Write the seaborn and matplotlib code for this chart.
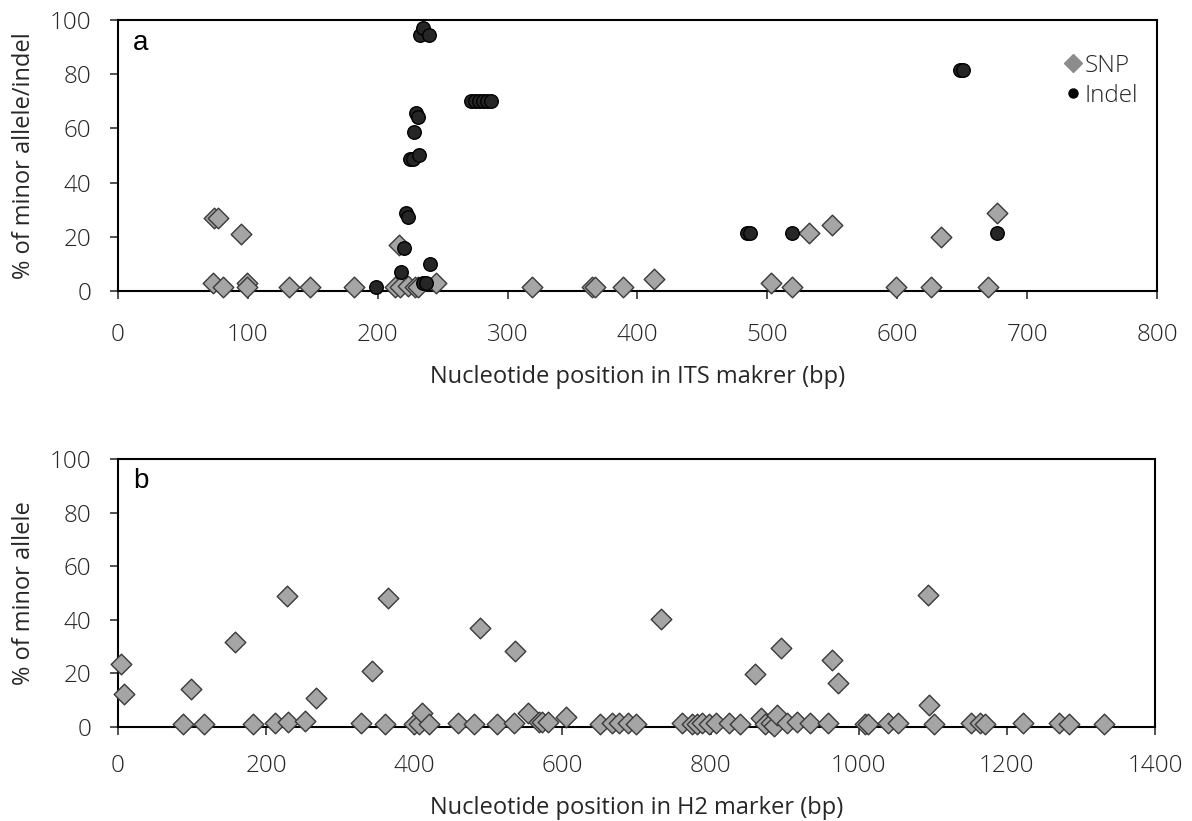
import matplotlib
matplotlib.use("Agg")
import matplotlib.pyplot as plt
from matplotlib.lines import Line2D
import numpy as np
import pandas as pd
import seaborn as sns

# ---------------------------------------------------------------------------
# Data
# ---------------------------------------------------------------------------
its_snp_pos = [74, 77, 95, 73, 81, 99, 99, 132, 148, 182, 216, 213, 217, 223,
               229, 231, 245, 319, 365, 367, 389, 413, 503, 519, 532, 550, 599,
               626, 634, 670, 677]
its_snp_pct = [27, 27, 21, 3, 1.6, 3, 1.5, 1.6, 1.6, 1.6, 17, 1.5, 1.5, 2,
               1.5, 1.5, 3, 1.6, 1.6, 1.6, 1.6, 4.3, 3, 1.6, 21.3, 24.4, 1.6,
               1.6, 20, 1.6, 28.7]

its_indel_pos = [199, 218, 220, 222, 223.5, 225, 227, 231.5, 228, 229.5, 231,
                 232.5, 235, 239.5, 240, 235, 237.5, 272, 275, 278, 281, 284,
                 287, 484, 486.5, 519, 648, 650.5, 677]
its_indel_pct = [1.4, 7.1, 15.7, 28.7, 27.2, 48.6, 48.6, 50.2, 58.6, 65.6,
                 64.3, 94.5, 97, 94.5, 9.8, 2.8, 2.8, 70, 70, 70, 70, 70, 70,
                 21.3, 21.3, 21.3, 81.5, 81.5, 21.3]

h2_snp_pos = [3.6, 8, 88, 98, 116, 158.6, 182, 211.6, 228, 230, 253, 267,
              327.5, 343, 361, 364, 400, 406, 410.6, 420.5, 458.6, 481, 489,
              511, 534, 536, 553, 569, 573, 581, 605, 651, 667.5, 676.5, 688,
              699, 733.6, 761, 775, 782, 789, 798, 807, 825, 840, 860, 867.5,
              874, 881, 885, 889, 895, 903, 917, 934, 958.6, 964, 972, 1009,
              1013, 1040, 1053, 1094, 1095, 1102, 1152, 1164, 1171, 1222,
              1270, 1284, 1331]
h2_snp_pct = [23.5, 12.2, 1, 14, 1, 31.6, 1, 1.6, 48.9, 2, 2.2, 10.7,
              1.6, 20.9, 1, 48, 1, 1, 5.1, 1, 1.4, 1, 37,
              1, 1.4, 28.4, 5.1, 2, 2, 2, 3.6, 1, 1.4, 1.4, 1.4,
              1, 40.3, 1.4, 1, 1, 1.4, 1, 1.4, 1.6, 1, 19.8, 3.2,
              1, 1.4, 0.5, 4.5, 29.4, 1.4, 2, 1.4, 1.4, 25, 16.3, 1,
              1, 1.4, 1.4, 49.3, 8.2, 1, 1.4, 1.4, 1, 1.4,
              1.4, 1, 1]

its_xticks = [0, 100, 200, 300, 400, 500, 600, 700, 800]
h2_xticks = [0, 200, 400, 600, 800, 1000, 1200, 1400]
pct_ticks = [0, 20, 40, 60, 80, 100]

SNP_FILL = "#a5a5a5"
SNP_EDGE = "#3a3a3a"
INDEL_FILL = "#262626"
TEXT = "#262626"
FS = 17.5

sns.set_theme(style="white")
plt.rcParams["font.family"] = ["Open Sans", "DejaVu Sans"]
plt.rcParams["font.weight"] = "light"


def style_axes(ax, xticks, xmax, xlabel, ylabel, letter, xpad, xlabelpad):
    ax.set_xlim(0, xmax)
    ax.set_ylim(0, 100)
    ax.set_xticks(xticks)
    ax.set_yticks(pct_ticks)
    ax.tick_params(axis="both", direction="out", length=6, width=1.2,
                   color="#333333", labelsize=FS, labelcolor=TEXT,
                   bottom=True, left=True)
    ax.tick_params(axis="x", pad=xpad)
    ax.tick_params(axis="y", pad=13)
    for sp in ax.spines.values():
        sp.set_visible(True)
        sp.set_color("black")
        sp.set_linewidth(1.5)
    ax.set_xlabel(xlabel, fontsize=FS - 0.5, color=TEXT, labelpad=xlabelpad)
    ax.set_ylabel(ylabel, fontsize=FS - 0.5, color=TEXT, labelpad=10)
    ax.text(0.0145, 0.965, letter, transform=ax.transAxes, ha="left", va="top",
            fontsize=20, family=["Liberation Sans", "DejaVu Sans"],
            fontweight="normal", color="black")


fig = plt.figure(figsize=(11.92, 8.21), dpi=100)
ax_a = fig.add_axes([0.099, 0.6456, 0.8716, 0.330])
ax_b = fig.add_axes([0.099, 0.1145, 0.8700, 0.3264])

# panel a
df_snp_a = pd.DataFrame({"pos": its_snp_pos, "pct": its_snp_pct})
df_ind_a = pd.DataFrame({"pos": its_indel_pos, "pct": its_indel_pct})
sns.scatterplot(data=df_snp_a, x="pos", y="pct", ax=ax_a, marker="D", s=110,
                color=SNP_FILL, edgecolor=SNP_EDGE, linewidth=1.0, zorder=3,
                clip_on=False)
sns.scatterplot(data=df_ind_a, x="pos", y="pct", ax=ax_a, marker="o", s=95,
                color=INDEL_FILL, edgecolor="black", linewidth=1.0, zorder=4,
                clip_on=False)
style_axes(ax_a, its_xticks, 800, "Nucleotide position in ITS makrer (bp)",
           "% of minor allele/indel", "a", xpad=17, xlabelpad=13)

handles = [
    Line2D([], [], marker="D", linestyle="none", markersize=9,
           markerfacecolor="#8c8c8c", markeredgecolor="#8c8c8c"),
    Line2D([], [], marker="o", linestyle="none", markersize=6.5,
           markerfacecolor="black", markeredgecolor="black"),
]
ax_a.legend(handles, ["SNP", "Indel"], loc="upper left",
            bbox_to_anchor=(0.9, 0.912), frameon=False, fontsize=FS,
            handlelength=0.8, handletextpad=0.1, labelspacing=0.25,
            borderaxespad=0, labelcolor=TEXT)

# panel b
df_snp_b = pd.DataFrame({"pos": h2_snp_pos, "pct": h2_snp_pct})
sns.scatterplot(data=df_snp_b, x="pos", y="pct", ax=ax_b, marker="D", s=110,
                color=SNP_FILL, edgecolor=SNP_EDGE, linewidth=1.0, zorder=3,
                clip_on=False)
style_axes(ax_b, h2_xticks, 1400, "Nucleotide position in H2 marker (bp)",
           "% of minor allele", "b", xpad=13.5, xlabelpad=13)

fig.savefig("out.png", dpi=100)
